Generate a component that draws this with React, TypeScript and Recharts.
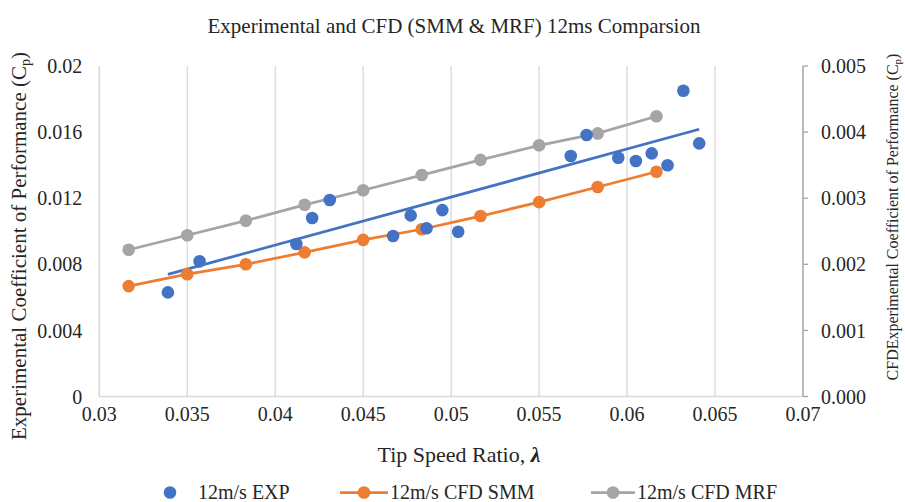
import {
  ComposedChart, Line, Scatter, XAxis, YAxis, CartesianGrid,
} from 'recharts';

const FONT = 'Liberation Serif, Times New Roman, serif';
const TEXT = '#262626';

const BLUE = '#4472C4';
const ORANGE = '#ED7D31';
const GREY = '#A5A5A5';
const GRID = '#d9d9d9';

// tip speed ratio values used by both CFD runs
const cfdTsr = [0.03167, 0.035, 0.03833, 0.04167, 0.045, 0.04833, 0.05167, 0.055, 0.05833, 0.06167];
const smmCp = [0.00167, 0.00185, 0.002, 0.00218, 0.00237, 0.00253, 0.00273, 0.00294, 0.00317, 0.0034];
const mrfCp = [0.00222, 0.00244, 0.00266, 0.0029, 0.00312, 0.00335, 0.00358, 0.0038, 0.00398, 0.00424];

// experimental points
const expTsr = [
  0.0339, 0.0357, 0.0412, 0.0421, 0.0431, 0.0467, 0.0477, 0.0486, 0.0495,
  0.0504, 0.0568, 0.0577, 0.0595, 0.0605, 0.0614, 0.0623, 0.0632, 0.0641,
];
const expCp = [
  0.0063, 0.00818, 0.00923, 0.0108, 0.01189, 0.00971, 0.01096, 0.01018, 0.01128,
  0.00997, 0.01455, 0.01582, 0.01445, 0.01425, 0.01471, 0.01399, 0.0185, 0.01532,
];

// linear trendline of the experimental data (end points)
const trendTsr = [0.0339, 0.0641];
const trendCp = [0.00739, 0.01617];

const xTicks = [0.03, 0.035, 0.04, 0.045, 0.05, 0.055, 0.06, 0.065, 0.07];
const leftTicks = [0, 0.004, 0.008, 0.012, 0.016, 0.02];
const rightTicks = [0, 0.001, 0.002, 0.003, 0.004, 0.005];

const smmData = cfdTsr.map((x, i) => ({ x, y: smmCp[i] }));
const mrfData = cfdTsr.map((x, i) => ({ x, y: mrfCp[i] }));
const expData = expTsr.map((x, i) => ({ x, y: expCp[i] }));
const trendData = trendTsr.map((x, i) => ({ x, y: trendCp[i] }));

const Dot = (props: any) => (
  <circle cx={props.cx} cy={props.cy} r={6.3} fill={BLUE} />
);

function renderTick(anchor: string, dy: string, fmt: (v: number) => string) {
  return (props: any) => (
    <g transform={`translate(${props.x},${props.y})`}>
      <text
        x={0}
        y={0}
        dy={dy}
        textAnchor={anchor}
        fill={TEXT}
        fontFamily={FONT}
        fontSize={20}
      >
        {fmt(props.payload.value)}
      </text>
    </g>
  );
}

const xTick = renderTick('middle', '0.71em', v => String(v));
const leftTick = renderTick('end', '0.355em', v => String(v));
const rightTick = renderTick('start', '0.355em', v => v.toFixed(3));

export default function App() {
  return (
    <div style={{ position: 'absolute', left: 0, top: 0, width: 905, height: 502, background: '#fff', fontFamily: FONT }}>
      <ComposedChart
        width={905}
        height={502}
        margin={{ top: 66, right: 0, bottom: 75.5, left: 0 }}
      >
        <CartesianGrid stroke={GRID} strokeWidth={1.3} horizontalValues={leftTicks} verticalValues={xTicks} />
        <XAxis
          dataKey="x"
          type="number"
          domain={[0.03, 0.07]}
          ticks={xTicks}
          allowDataOverflow
          height={30}
          tickLine={false}
          tickSize={5}
          tickMargin={5}
          axisLine={{ stroke: GRID, strokeWidth: 1.3 }}
          tick={xTick}
        />
        <YAxis
          yAxisId="left"
          type="number"
          domain={[0, 0.02]}
          ticks={leftTicks}
          width={99.3}
          axisLine={{ stroke: GRID, strokeWidth: 1.3 }}
          tickLine={false}
          tickSize={6}
          tickMargin={11}
          tick={leftTick}
        />
        <YAxis
          yAxisId="right"
          orientation="right"
          type="number"
          domain={[0, 0.005]}
          ticks={rightTicks}
          width={102}
          axisLine={{ stroke: GREY, strokeWidth: 1.3 }}
          tickLine={{ stroke: GREY, strokeWidth: 1.3 }}
          tickSize={5}
          tickMargin={13}
          tick={rightTick}
        />
        <Line
          yAxisId="right"
          data={mrfData}
          dataKey="y"
          stroke={GREY}
          strokeWidth={2.75}
          dot={{ r: 6.3, fill: GREY, stroke: GREY, strokeWidth: 0 }}
          activeDot={false}
          isAnimationActive={false}
        />
        <Line
          yAxisId="right"
          data={smmData}
          dataKey="y"
          stroke={ORANGE}
          strokeWidth={2.75}
          dot={{ r: 6.3, fill: ORANGE, stroke: ORANGE, strokeWidth: 0 }}
          activeDot={false}
          isAnimationActive={false}
        />
        <Scatter
          yAxisId="left"
          data={expData}
          dataKey="y"
          fill={BLUE}
          shape={Dot}
          isAnimationActive={false}
        />
        <Line
          yAxisId="left"
          data={trendData}
          dataKey="y"
          stroke={BLUE}
          strokeWidth={2.75}
          dot={false}
          activeDot={false}
          isAnimationActive={false}
        />
      </ComposedChart>

      <svg
        width={905}
        height={502}
        style={{ position: 'absolute', left: 0, top: 0, pointerEvents: 'none' }}
        fontFamily={FONT}
        fill={TEXT}
      >
        <text x={454} y={33} fontSize={21} textAnchor="middle">
          Experimental and CFD (SMM &amp; MRF) 12ms Comparsion
        </text>

        <text x={459} y={462} fontSize={22} textAnchor="middle">
          Tip Speed Ratio,{' '}
          <tspan fontWeight="bold" fontStyle="italic">λ</tspan>
        </text>

        <text transform="translate(26,246) rotate(-90)" fontSize={21} textAnchor="middle">
          Experimental Coefficient of Performance (C
          <tspan fontSize={14} dy={4}>p</tspan>
          <tspan dy={-4}>)</tspan>
        </text>

        <text transform="translate(898,217) rotate(-90)" fontSize={16} textAnchor="middle">
          CFDExperimental Coefficient of Performance (C
          <tspan fontSize={11} dy={3}>p</tspan>
          <tspan dy={-3}>)</tspan>
        </text>

        {/* legend */}
        <circle cx={170} cy={492.5} r={6.3} fill={BLUE} />
        <text x={198} y={499} fontSize={20}>12m/s EXP</text>

        <line x1={340} y1={492.5} x2={388} y2={492.5} stroke={ORANGE} strokeWidth={2.75} />
        <circle cx={364} cy={492.5} r={6.3} fill={ORANGE} />
        <text x={390} y={499} fontSize={20}>12m/s CFD SMM</text>

        <line x1={591} y1={492.5} x2={635} y2={492.5} stroke={GREY} strokeWidth={2.75} />
        <circle cx={613} cy={492.5} r={6.3} fill={GREY} />
        <text x={637} y={499} fontSize={20}>12m/s CFD MRF</text>
      </svg>
    </div>
  );
}
